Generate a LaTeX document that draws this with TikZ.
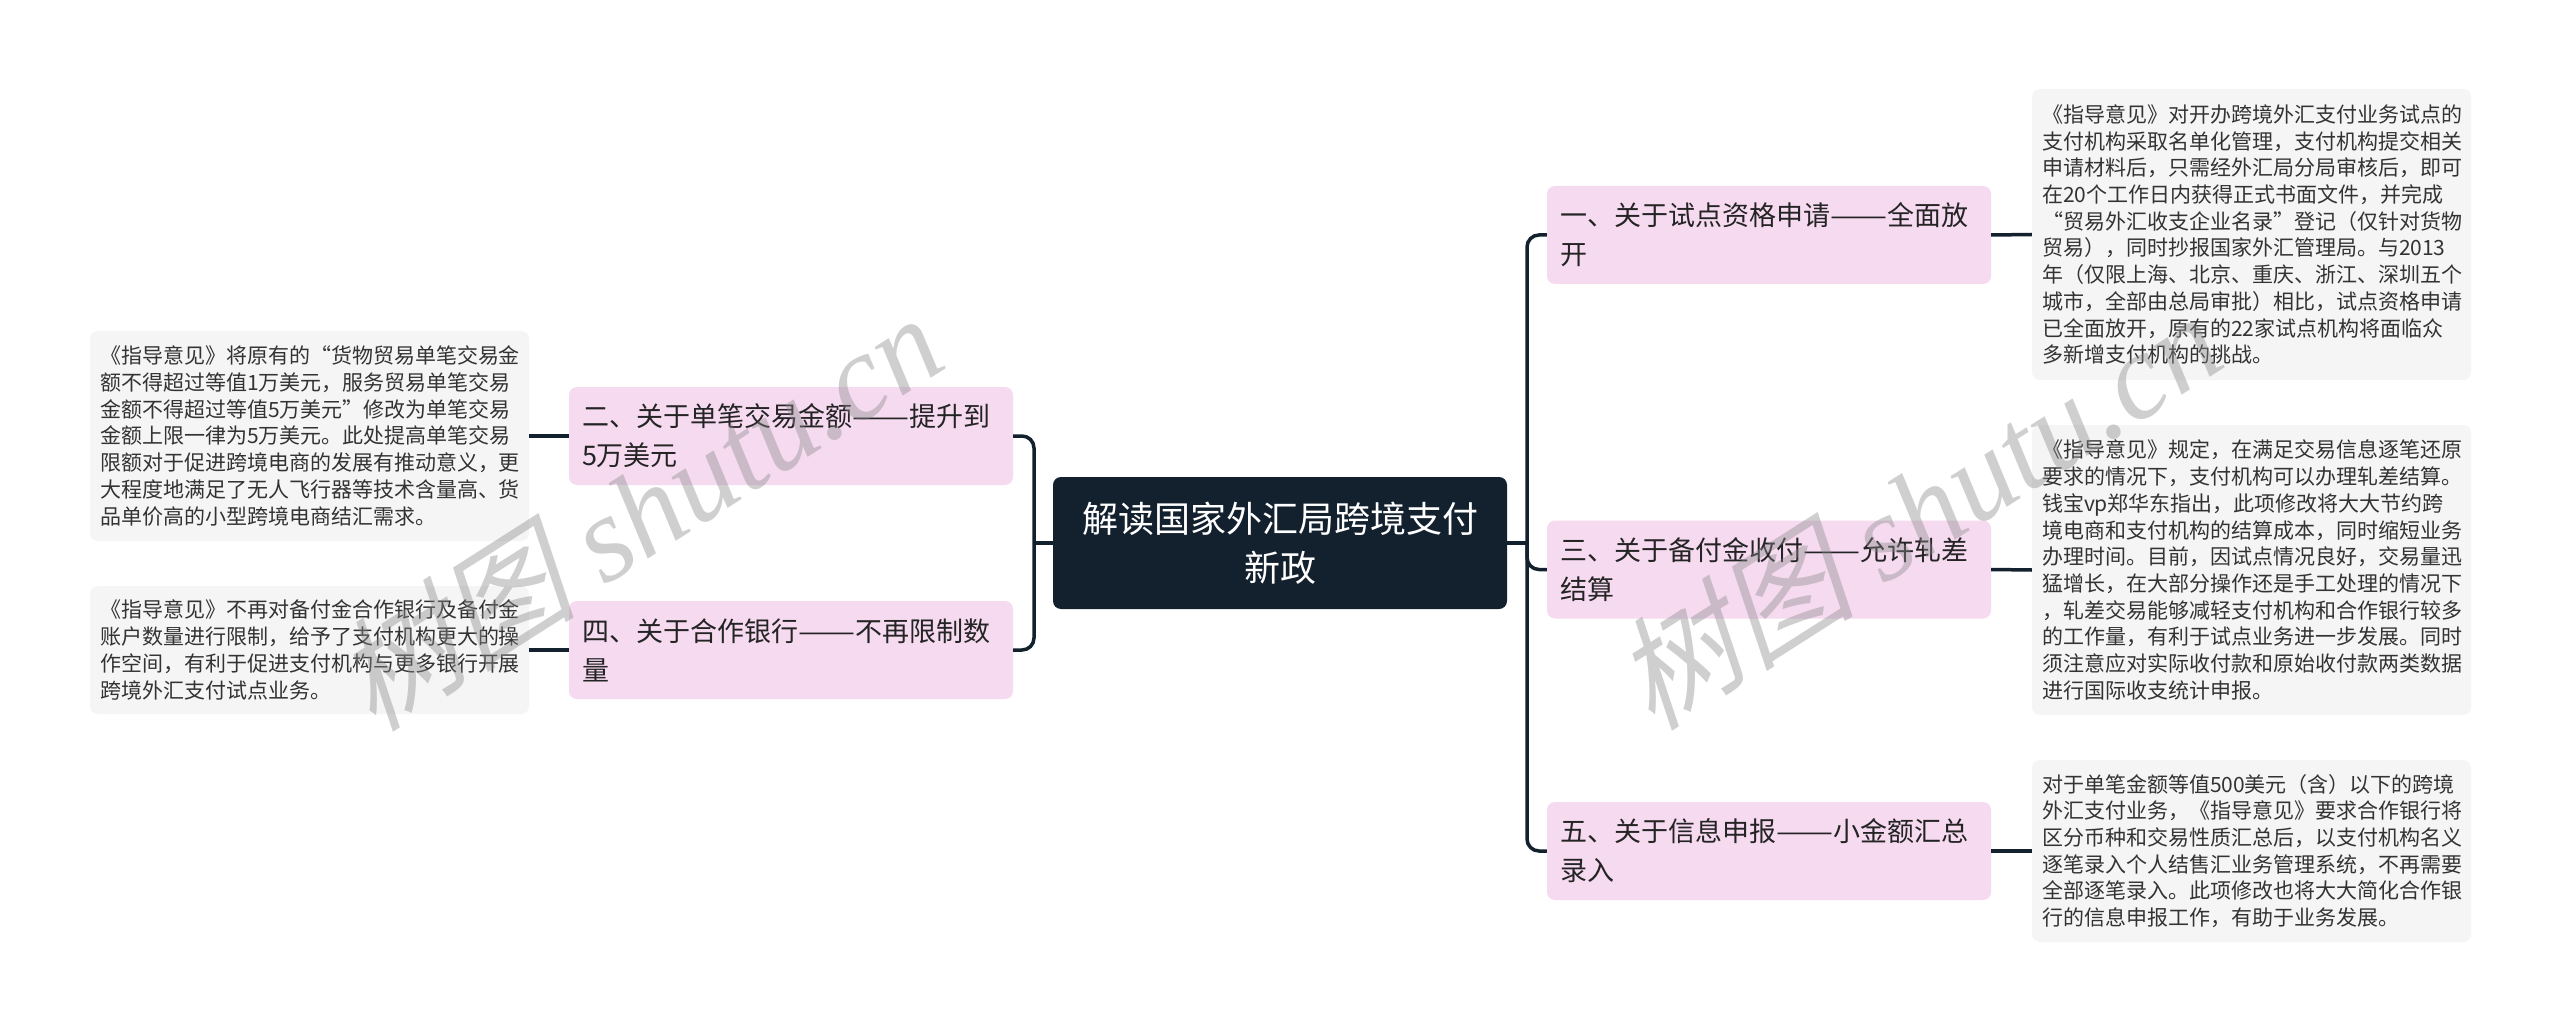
\documentclass[tikz,border=0pt]{standalone}
\usepackage{fontspec}
\setmainfont{Noto Sans CJK SC}
\newfontfamily\wmcjk[FakeSlant=0.25]{Noto Sans CJK SC}
\newfontfamily\wmlat{Liberation Serif}
\newcommand{\wdash}{\scalebox{1.26}[1]{——}}
\definecolor{darkc}{HTML}{13202E}
\definecolor{pinkc}{HTML}{F6DAF0}
\definecolor{greyc}{HTML}{F5F5F5}
\definecolor{textc}{HTML}{333333}
\definecolor{wmc}{HTML}{888888}
\tikzset{
  rootbox/.style={rectangle,rounded corners=8pt,fill=darkc,text=white,align=center,inner sep=0pt,minimum width=454pt,minimum height=132pt,text width=420pt,font=\fontsize{36}{49}\selectfont},
  branchbox/.style={rectangle,rounded corners=8pt,fill=pinkc,text=textc!70!black,align=left,inner xsep=13pt,inner ysep=0pt,minimum width=444pt,minimum height=98pt,text width=418pt,font=\fontsize{27}{39}\selectfont},
  detailbox/.style={rectangle,rounded corners=8pt,fill=greyc,text=textc,align=left,inner xsep=10pt,inner ysep=0pt,minimum width=439pt,text width=419pt,font=\fontsize{21}{26.7}\selectfont},
  linkline/.style={draw=darkc,line width=3.5pt,rounded corners=12pt},
  wmark/.style={text=wmc,text opacity=0.4,rotate=32.5,inner sep=0pt}
}
\begin{document}
\begin{tikzpicture}[x=1pt,y=-1pt]
\useasboundingbox (0,0) rectangle (2560,1032);
\fill[white] (0,0) rectangle (2560,1032);
\coordinate (busL) at (1034,543);
\coordinate (busR) at (1527,543);

\node[rootbox] (root) at (1280,543) {解读国家外汇局跨境支付\\新政};

\node[branchbox] (b1) at (1769,235) {一、关于试点资格申请\wdash 全面放\\开};
\node[branchbox] (b3) at (1769,569.5) {三、关于备付金收付\wdash 允许轧差\\结算};
\node[branchbox] (b5) at (1769,851) {五、关于信息申报\wdash 小金额汇总\\录入};
\node[branchbox] (b2) at (791,436) {二、关于单笔交易金额\wdash 提升到\\5万美元};
\node[branchbox] (b4) at (791,650) {四、关于合作银行\wdash 不再限制数\\量};

\node[detailbox,minimum height=291pt] (d1) at (2251.5,234.5) {《指导意见》对开办跨境外汇支付业务试点的\\支付机构采取名单化管理，支付机构提交相关\\申请材料后，只需经外汇局分局审核后，即可\\在20个工作日内获得正式书面文件，并完成\\“贸易外汇收支企业名录”登记（仅针对货物\\贸易），同时抄报国家外汇管理局。与2013\\年（仅限上海、北京、重庆、浙江、深圳五个\\城市，全部由总局审批）相比，试点资格申请\\已全面放开，原有的22家试点机构将面临众\\多新增支付机构的挑战。};
\node[detailbox,minimum height=290pt] (d3) at (2251.5,570) {《指导意见》规定，在满足交易信息逐笔还原\\要求的情况下，支付机构可以办理轧差结算。\\钱宝vp郑华东指出，此项修改将大大节约跨\\境电商和支付机构的结算成本，同时缩短业务\\办理时间。目前，因试点情况良好，交易量迅\\猛增长，在大部分操作还是手工处理的情况下\\，轧差交易能够减轻支付机构和合作银行较多\\的工作量，有利于试点业务进一步发展。同时\\须注意应对实际收付款和原始收付款两类数据\\进行国际收支统计申报。};
\node[detailbox,minimum height=182pt] (d5) at (2251.5,851) {对于单笔金额等值500美元（含）以下的跨境\\外汇支付业务，《指导意见》要求合作银行将\\区分币种和交易性质汇总后，以支付机构名义\\逐笔录入个人结售汇业务管理系统，不再需要\\全部逐笔录入。此项修改也将大大简化合作银\\行的信息申报工作，有助于业务发展。};
\node[detailbox,minimum height=210pt] (d2) at (309.5,436) {《指导意见》将原有的“货物贸易单笔交易金\\额不得超过等值1万美元，服务贸易单笔交易\\金额不得超过等值5万美元”修改为单笔交易\\金额上限一律为5万美元。此处提高单笔交易\\限额对于促进跨境电商的发展有推动意义，更\\大程度地满足了无人飞行器等技术含量高、货\\品单价高的小型跨境电商结汇需求。};
\node[detailbox,minimum height=128pt] (d4) at (309.5,650) {《指导意见》不再对备付金合作银行及备付金\\账户数量进行限制，给予了支付机构更大的操\\作空间，有利于促进支付机构与更多银行开展\\跨境外汇支付试点业务。};

\draw[linkline] (root.east) -- (busR);
\draw[linkline] (b1.west) -| (busR);
\draw[linkline] (b5.west) -| (busR);
\draw[linkline] (b3.west) -| (busR);
\draw[linkline] (root.west) -- (busL);
\draw[linkline] (b2.east) -| (busL);
\draw[linkline] (b4.east) -| (busL);
\draw[linkline] (b1.east) -- (d1.west);
\draw[linkline] (b3.east) -- (d3.west);
\draw[linkline] (b5.east) -- (d5.west);
\draw[linkline] (b2.west) -- (d2.east);
\draw[linkline] (b4.west) -- (d4.east);

\node[wmark] (wm1) at (637,511) {\fontsize{122}{122}\selectfont\wmcjk 树图\wmlat\itshape\ shutu.cn};
\node[wmark] (wm2) at (1916,510) {\fontsize{122}{122}\selectfont\wmcjk 树图\wmlat\itshape\ shutu.cn};
\end{tikzpicture}
\end{document}
